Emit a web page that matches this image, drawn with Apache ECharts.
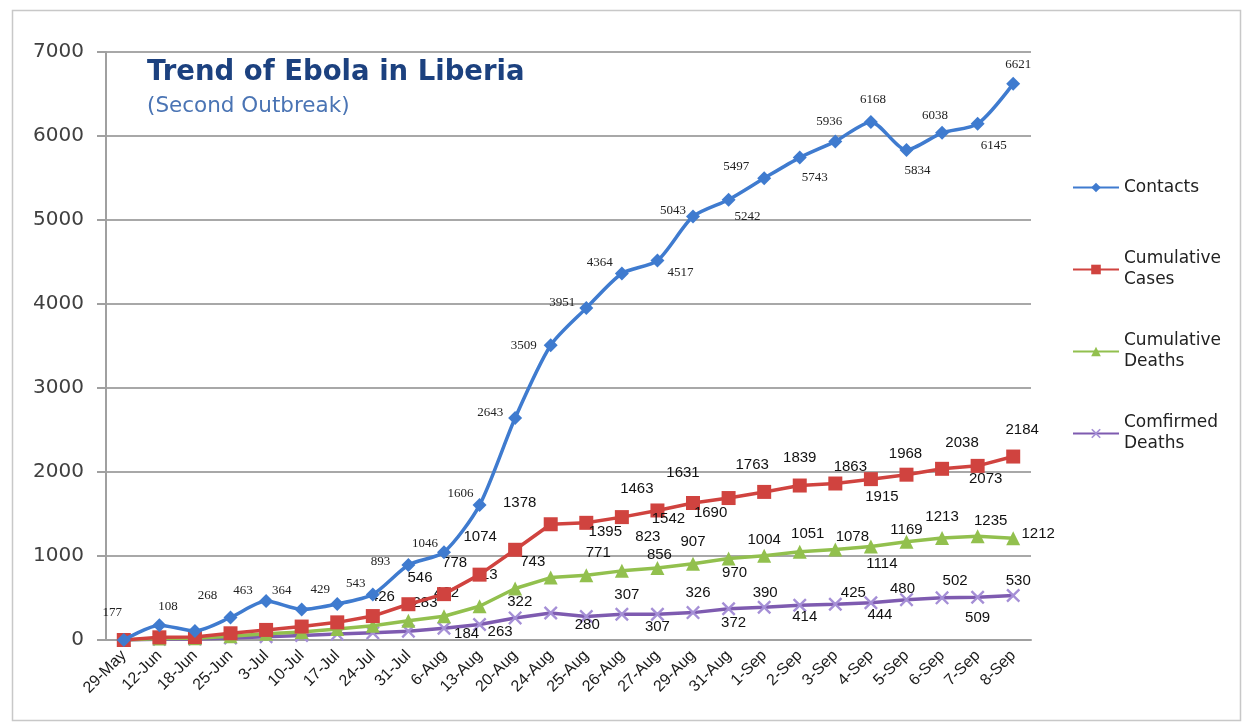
<!DOCTYPE html>
<html><head><meta charset="utf-8">
<script src="https://cdn.jsdelivr.net/npm/echarts@6/dist/echarts.min.js"></script>
<style>html,body{margin:0;padding:0;background:#fff}#c{width:1246px;height:724px}</style>
</head><body><div id="c"></div>
<script>
const categories = ['29-May','12-Jun','18-Jun','25-Jun','3-Jul','10-Jul','17-Jul','24-Jul','31-Jul','6-Aug','13-Aug','20-Aug','24-Aug','25-Aug','26-Aug','27-Aug','29-Aug','31-Aug','1-Sep','2-Sep','3-Sep','4-Sep','5-Sep','6-Sep','7-Sep','8-Sep'];
const contacts = [0,177,108,268,463,364,429,543,893,1046,1606,2643,3509,3951,4364,4517,5043,5242,5497,5743,5936,6168,5834,6038,6145,6621];
const cumulativeCases = [0,32,35,80,120,160,210,285,426,546,778,1074,1378,1395,1463,1542,1631,1690,1763,1839,1863,1915,1968,2038,2073,2184];
const cumulativeDeaths = [0,18,22,45,75,95,130,170,230,283,402,613,743,771,823,856,907,970,1004,1051,1078,1114,1169,1213,1235,1212];
const confirmedDeaths = [0,8,12,25,40,55,70,85,105,140,184,263,322,280,307,307,326,372,390,414,425,444,480,502,509,530];
const yTicks = [0,1000,2000,3000,4000,5000,6000,7000];

// label offsets (px, relative to the marker) -- null = no label
const contactsLabelOffset = [null,[-47,-13],[-27,-24],[-23,-22],[-23,-11],[-20,-19],[-17,-14],[-17,-11],[-28,-3],[-19,-9],[-19,-12],[-25,-5],[-27,0],[-24,-6],[-22,-11],[23,12],[-20,-6],[19,17],[-28,-12],[15,20],[-6,-20],[2,-22],[11,21],[-7,-17],[16,22],[5,-19]];
const casesLabelOffset = [null,null,null,null,null,null,null,null,[-26,-7],[-24,-16],[-25,-12],[-35,-13],[-31,-21],[19,9],[15,-28],[11,8],[-10,-30],[-18,15],[-12,-27],[0,-28],[15,-17],[11,18],[-1,-21],[20,-26],[8,13],[9,-27]];
const deathsLabelOffset = [null,null,null,null,null,null,null,null,null,[-19,-13],[-33,-13],[-30,-14],[-18,-16],[12,-22],[26,-34],[2,-13],[0,-22],[6,14],[0,-16],[8,-18],[17,-13],[11,17],[0,-12],[0,-21],[13,-15],[25,-4]];
const confirmedLabelOffset = [null,null,null,null,null,null,null,null,null,null,[-13,9],[-15,14],[-31,-11],[1,8],[5,-19],[0,13],[5,-20],[5,14],[1,-14],[5,12],[18,-11],[9,12],[-4,-11],[13,-17],[0,21],[5,-15]];

function withLabels(values, offsets) {
  return values.map((v, i) => offsets[i]
    ? { value: v, label: { show: true, offset: offsets[i] } }
    : { value: v, label: { show: false } });
}

const xMark = 'path://M0,1.2L1.2,0L5,3.8L8.8,0L10,1.2L6.2,5L10,8.8L8.8,10L5,6.2L1.2,10L0,8.8L3.8,5Z';
const sansLabel = { show: true, position: 'inside', fontFamily: 'Liberation Sans', fontSize: 15, color: '#111' };

const chart = echarts.init(document.getElementById('c'), null, { renderer: 'canvas' });
chart.setOption({
  backgroundColor: '#fff',
  animation: false,
  title: {
    text: 'Trend of Ebola in Liberia',
    subtext: '(Second Outbreak)',
    left: 147, top: 59, itemGap: 8, padding: 0,
    textStyle: { fontFamily: 'DejaVu Sans', fontWeight: 'bold', fontSize: 27.5, color: '#1C417F' },
    subtextStyle: { fontFamily: 'DejaVu Sans', fontSize: 21.5, color: '#4A74B4' }
  },
  legend: {
    orient: 'vertical', left: 1072, top: 156, padding: 0, itemGap: 19,
    itemWidth: 46, itemHeight: 12,
    textStyle: { fontFamily: 'DejaVu Sans', fontSize: 17, color: '#222', lineHeight: 21 },
    data: [
      { name: 'Contacts', textStyle: { padding: [21, 0, 21, 0] } },
      { name: 'Cumulative\nCases', textStyle: { padding: [21, 0, 0, 0] } },
      { name: 'Cumulative\nDeaths', textStyle: { padding: [21, 0, 0, 0] } },
      { name: 'Comfirmed\nDeaths', textStyle: { padding: [21, 0, 0, 0] } }
    ]
  },
  grid: { left: 106, right: 215, top: 52, bottom: 84, containLabel: false },
  xAxis: {
    type: 'category', data: categories, boundaryGap: true,
    axisLine: { lineStyle: { color: '#A0A0A0', width: 2 } },
    axisTick: { show: false },
    axisLabel: { interval: 0, rotate: 45, margin: 13, fontFamily: 'Liberation Sans', fontSize: 16, color: '#1a1a1a' },
    splitLine: { show: false }
  },
  yAxis: {
    type: 'value', min: yTicks[0], max: yTicks[yTicks.length - 1], interval: 1000,
    axisLine: { show: true, lineStyle: { color: '#A0A0A0', width: 2 } },
    axisTick: { show: true, length: 9, lineStyle: { color: '#A0A0A0', width: 2 } },
    axisLabel: { margin: 22, fontFamily: 'DejaVu Sans', fontSize: 20, color: '#404040', formatter: v => String(v) },
    splitLine: { lineStyle: { color: '#A8A8A8', width: 2 } }
  },
  graphic: [{
    type: 'rect', left: 10, top: 8, z: -1,
    shape: { width: 1228, height: 710 },
    style: { fill: 'none', stroke: '#C8C8C8', lineWidth: 1.5 }
  }],
  series: [
    {
      name: 'Contacts', type: 'line', smooth: 0.25,
      data: withLabels(contacts, contactsLabelOffset),
      symbol: 'diamond', symbolSize: 14,
      lineStyle: { color: '#3F7BCF', width: 3.5 },
      itemStyle: { color: '#3F7BCF' },
      label: { show: true, position: 'inside', fontFamily: 'Liberation Serif', fontSize: 13, color: '#222' },
      z: 5
    },
    {
      name: 'Cumulative\nCases', type: 'line',
      data: withLabels(cumulativeCases, casesLabelOffset),
      symbol: 'rect', symbolSize: 14,
      lineStyle: { color: '#D0433F', width: 3.5 },
      itemStyle: { color: '#D0433F' },
      label: sansLabel, z: 4
    },
    {
      name: 'Cumulative\nDeaths', type: 'line',
      data: withLabels(cumulativeDeaths, deathsLabelOffset),
      symbol: 'triangle', symbolSize: 14,
      lineStyle: { color: '#92C04E', width: 3.5 },
      itemStyle: { color: '#92C04E' },
      label: sansLabel, z: 3
    },
    {
      name: 'Comfirmed\nDeaths', type: 'line',
      data: withLabels(confirmedDeaths, confirmedLabelOffset),
      symbol: xMark, symbolSize: 14,
      lineStyle: { color: '#7E5BB0', width: 3.5 },
      itemStyle: { color: '#A58FD6' },
      label: sansLabel, z: 2
    }
  ]
});
</script></body></html>
